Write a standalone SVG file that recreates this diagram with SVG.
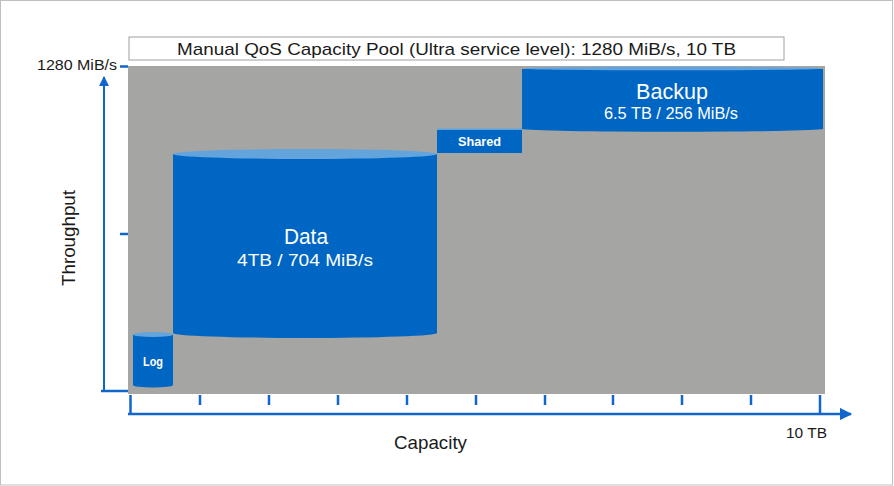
<svg xmlns="http://www.w3.org/2000/svg" width="894" height="486" viewBox="0 0 894 486">
<style>
text{font-family:"Liberation Sans",Arial,sans-serif}
.blk{fill:#1a1a1a}
.ax{stroke:#1166CC;fill:none}
.blue{fill:#0066C4}
.top{fill:#63A4DC}
.wt{fill:#fff}
</style>
<defs>
<marker id="arr" viewBox="0 0 10 10" refX="9" refY="5" markerWidth="5" markerHeight="5" orient="auto-start-reverse">
<path d="M0,0 L10,5 L0,10 z" fill="#1166CC"/>
</marker>
</defs>
<rect x="0.5" y="0.5" width="892" height="484.5" fill="#fff" stroke="#BFBFBF"/>
<rect id="pool" x="128" y="66" width="697" height="328" fill="#A5A6A3"/>
<g id="title">
<rect x="129" y="37" width="655" height="23" fill="#fff" stroke="#A0A0A0"/>
<text x="177" y="54.5" font-size="17" textLength="559" lengthAdjust="spacingAndGlyphs" class="blk">Manual QoS Capacity Pool (Ultra service level): 1280 MiB/s, 10 TB</text>
</g>
<g id="axes">
<path class="ax" stroke-width="2" d="M104,391 V77" marker-end="url(#arr)"/>
<path class="ax" stroke-width="2.5" d="M101,391 H128"/>
<path class="ax" stroke-width="2.5" d="M120,66.5 H128 M120,234 H128"/>
<path class="ax" stroke-width="2.5" d="M128,414 H851" marker-end="url(#arr)"/>
<path class="ax" stroke-width="2.5" d="M130.5,395 V414 M820,395 V414 M200,395 V405 M269,395 V405 M338,395 V405 M407,395 V405 M476,395 V405 M545,395 V405 M613,395 V405 M682,395 V405 M751,395 V405"/>
<text x="37" y="70" font-size="15" textLength="80" lengthAdjust="spacingAndGlyphs" class="blk">1280 MiB/s</text>
<text x="394" y="449" font-size="18.5" textLength="73" lengthAdjust="spacingAndGlyphs" class="blk">Capacity</text>
<text x="786" y="438" font-size="14" textLength="41" lengthAdjust="spacingAndGlyphs" class="blk">10 TB</text>
<text transform="translate(75,286) rotate(-90)" font-size="19" textLength="96" lengthAdjust="spacingAndGlyphs" class="blk">Throughput</text>
</g>
<g id="log">
<path class="blue" d="M133,334.5 V385 A20,2.5 0 0 0 173,385 V334.5 z"/>
<ellipse class="top" cx="153" cy="334.5" rx="20" ry="2.5"/>
<text x="143" y="366" font-size="12.5" font-weight="bold" textLength="20" lengthAdjust="spacingAndGlyphs" class="wt">Log</text>
</g>
<g id="data">
<path class="blue" d="M173,154 V333 A132,5 0 0 0 437,333 V154 z"/>
<ellipse class="top" cx="305" cy="154" rx="132" ry="5"/>
<text x="284" y="243.5" font-size="21.5" textLength="44" lengthAdjust="spacingAndGlyphs" class="wt">Data</text>
<text x="237" y="265.5" font-size="16" textLength="136" lengthAdjust="spacingAndGlyphs" class="wt">4TB / 704 MiB/s</text>
</g>
<g id="shared">
<rect class="blue" x="437" y="129" width="85" height="24"/>
<rect class="top" x="437" y="128.5" width="85" height="1.5"/>
<text x="458" y="145.5" font-size="12.5" font-weight="bold" textLength="43" lengthAdjust="spacingAndGlyphs" class="wt">Shared</text>
</g>
<g id="backup">
<path class="blue" d="M522,69 V129 A151,3 0 0 0 823,129 V69 z"/>
<ellipse class="top" cx="672.5" cy="68.5" rx="150.5" ry="1.8"/>
<text x="636" y="99" font-size="21.5" textLength="72" lengthAdjust="spacingAndGlyphs" class="wt">Backup</text>
<text x="604" y="118.5" font-size="16" textLength="134" lengthAdjust="spacingAndGlyphs" class="wt">6.5 TB / 256 MiB/s</text>
</g>
</svg>
